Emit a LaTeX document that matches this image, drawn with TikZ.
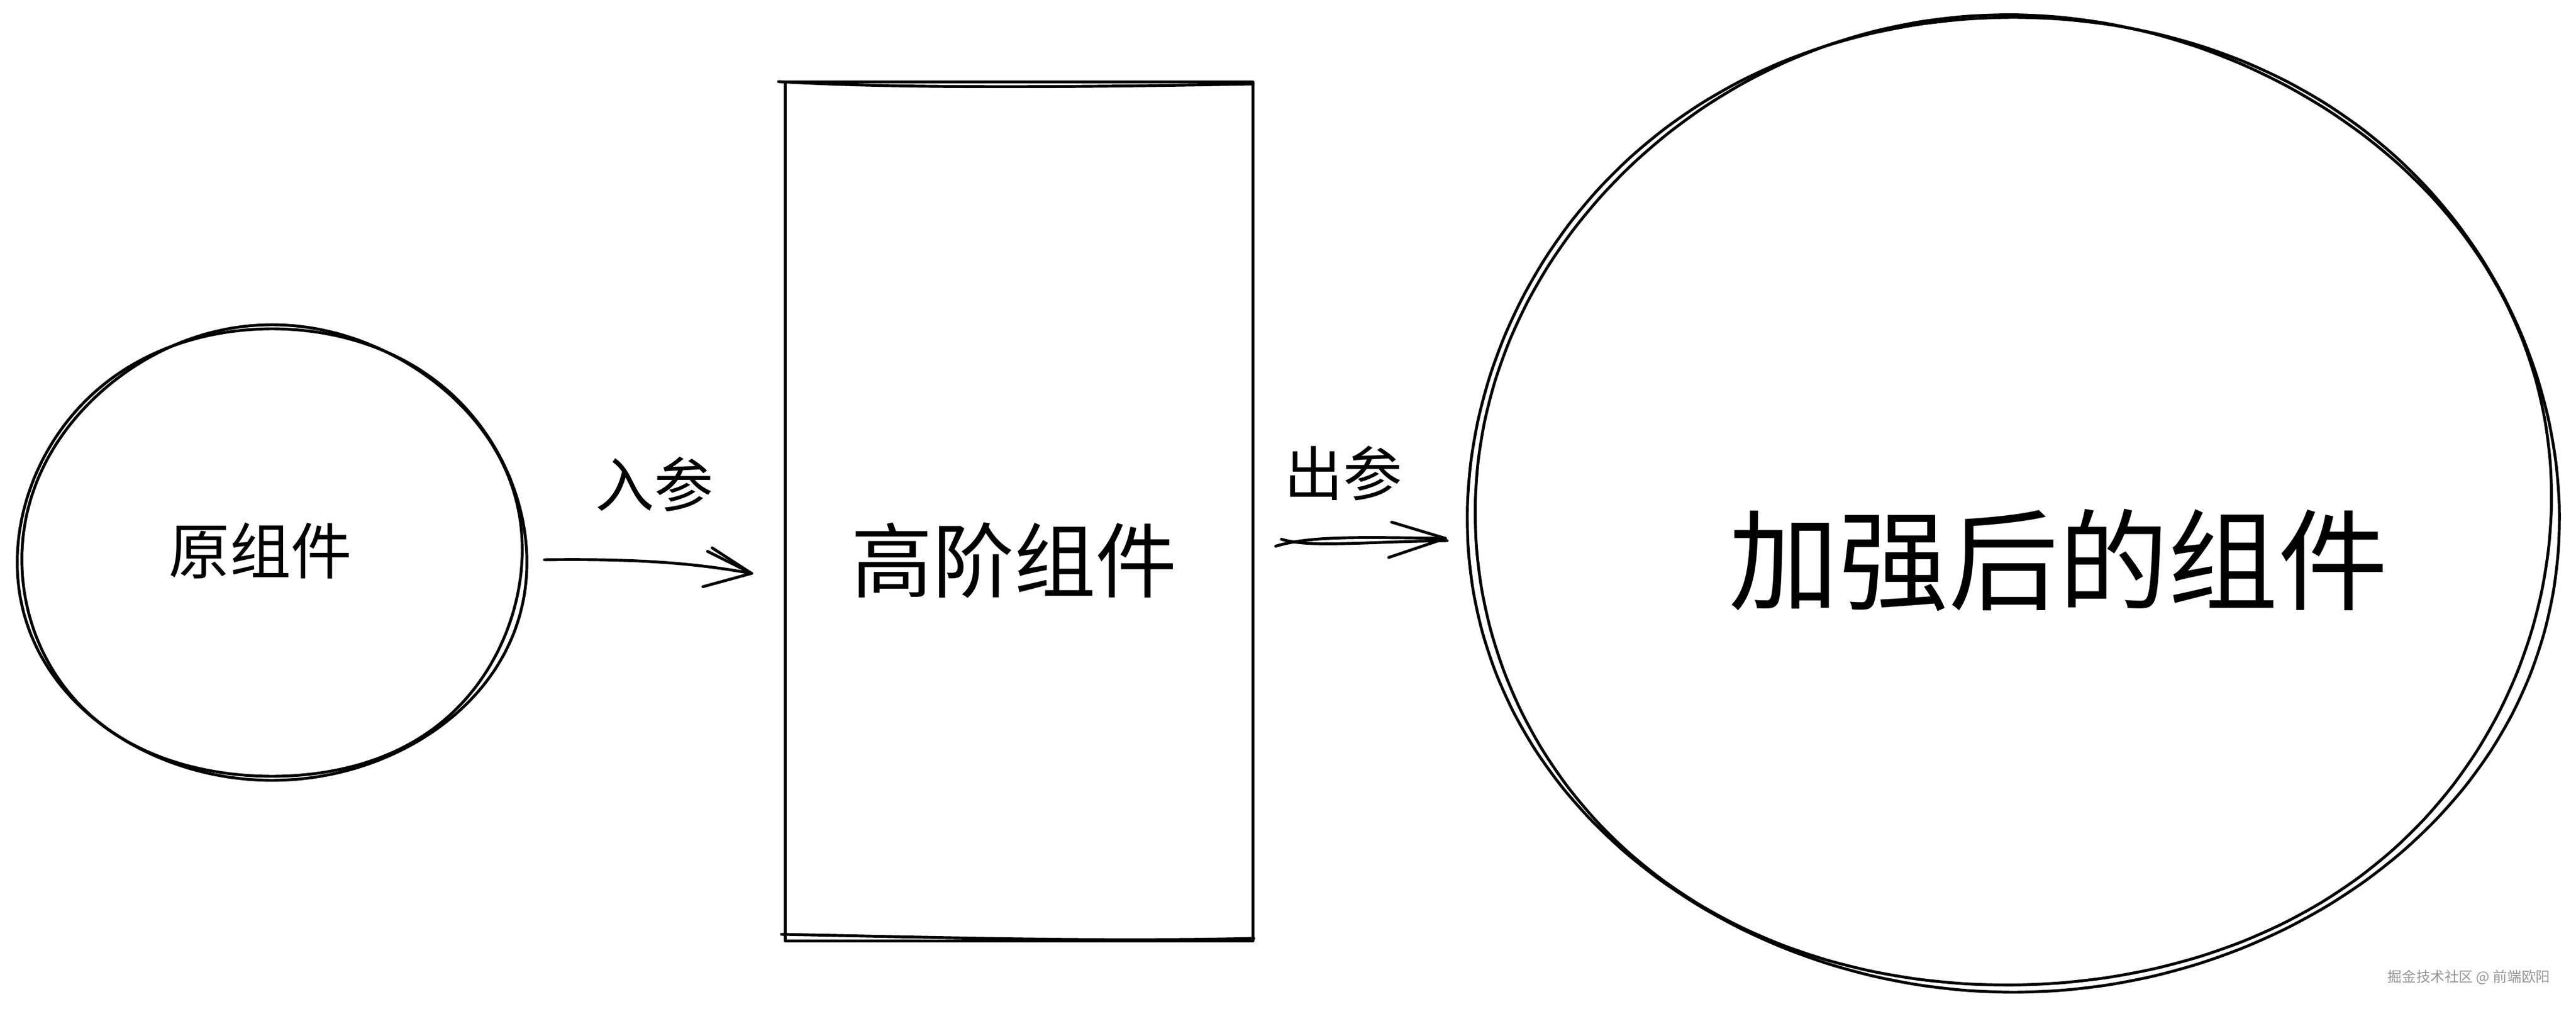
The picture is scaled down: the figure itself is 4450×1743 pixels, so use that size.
\documentclass[tikz,border=0pt]{standalone}
\usepackage{fontspec}
\newfontfamily\cjk{Noto Sans CJK SC}
\usetikzlibrary{shapes.geometric,calc}
\definecolor{wmgray}{RGB}{150,150,150}
\begin{document}
\begin{tikzpicture}[x=0.01cm,y=-0.01cm, line width=1.4pt, line cap=round, line join=round,
  lbl/.style={inner sep=0pt, anchor=center},
  fsA/.style={font={\cjk\fontsize{30}{30}\selectfont}},
  fsB/.style={font={\cjk\fontsize{29}{29}\selectfont}},
  fsC/.style={font={\cjk\fontsize{40}{40}\selectfont}},
  fsD/.style={font={\cjk\fontsize{54}{54}\selectfont}},
  fsW/.style={font={\cjk\fontsize{7}{7}\selectfont}, text=wmgray},
  barb/.style={line width=1.4pt}
  ]
\useasboundingbox[fill=white] (0,0) rectangle (4450,1743);

% original component (sketchy circle)
\node[ellipse, minimum width=8.8cm, minimum height=7.88cm, inner sep=0pt] (orig) at (470,958) {};
\begin{scope}[shift={(orig.center)}]
  \draw plot[smooth cycle, domain=0:355, samples=72] ({(440+5*sin(3*\x))*cos(\x)}, {(394+4*cos(2*\x))*sin(\x)});
  \draw plot[smooth cycle, domain=0:355, samples=72] ({(436-6*sin(2*\x+40))*cos(\x)}, {(390+7*sin(3*\x))*sin(\x)});
\end{scope}
\node[lbl, fsA] (torig) at (450,951) {原组件};

% higher-order component (sketchy rectangle)
\node[draw, minimum width=8.07cm, minimum height=14.83cm, inner sep=0pt] (hoc) at (1760.5,883.5) {};
\draw (1345,141) .. controls (1550,153) and (1850,151) .. (2165,145);
\draw (1350,1614) .. controls (1650,1620) and (1900,1627) .. (2166,1621);
\node[lbl, fsC] (thoc) at (1752,968) {高阶组件};

% enhanced component (big sketchy circle)
\node[ellipse, minimum width=18.86cm, minimum height=16.96cm, inner sep=0pt] (enh) at (3478,872) {};
\begin{scope}[shift={(enh.center)}]
  \draw plot[smooth cycle, domain=0:355, samples=72] ({(943+9*sin(3*\x))*cos(\x)}, {(848+6*cos(2*\x))*sin(\x)});
  \draw plot[smooth cycle, domain=0:355, samples=72] ({(936-10*sin(2*\x+40))*cos(\x)}, {(838+9*sin(3*\x+20))*sin(\x)});
\end{scope}
\node[lbl, fsD] (tenh) at (3556,968) {加强后的组件};

% arrow 1: orig -> hoc
\coordinate (a1s) at ($(orig.east)+(28,9)$);
\coordinate (a1t) at ($(hoc.west)+(-56,107)$);
\draw (a1s) .. controls +(160,-2) and +(-100,-18) .. (a1t);
\draw[barb] (a1t) -- ++(-76,-38);
\draw[barb] (a1t) -- ++(-68,-44);
\draw[barb] (a1t) -- ++(-84,23);
\node[lbl, fsB] (lin) at (1130,837) {入参};

% arrow 2: hoc -> enh
\coordinate (a2s) at ($(hoc.east)+(37,60)$);
\coordinate (a2t) at ($(enh.west)+(-35,58)$);
\draw (a2s) .. controls +(60,-18) and +(-150,-2) .. (a2t);
\draw ($(a2s)+(10,-12)$) .. controls +(50,15) and +(-150,2) .. ($(a2t)+(3,4)$);
\draw[barb] (a2t) -- ++(-93,-28);
\draw[barb] (a2t) -- ++(-98,33);
\node[lbl, fsB] (lout) at (2320,818) {出参};

% watermark
\node[lbl, fsW] (wm) at (4265,1688) {掘金技术社区 @ 前端欧阳};
\end{tikzpicture}
\end{document}
